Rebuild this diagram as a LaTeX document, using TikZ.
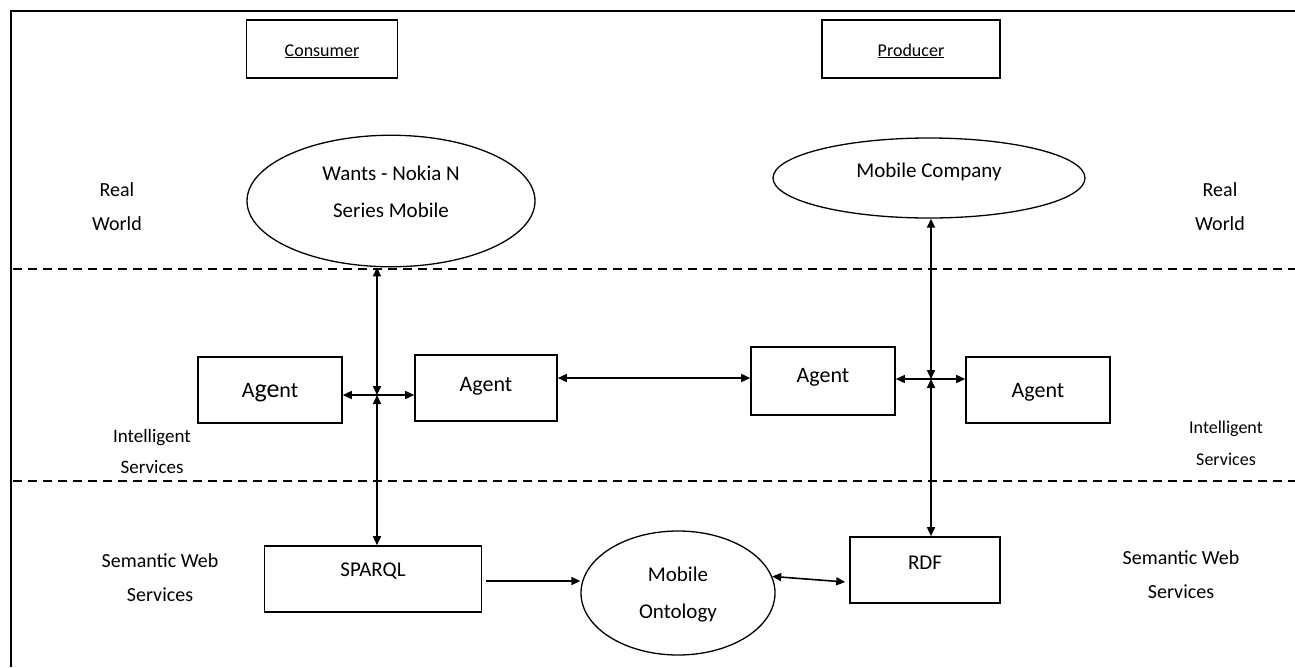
\documentclass[tikz,border=0pt]{standalone}
\usepackage{fontspec}
\setmainfont{Carlito}
\usetikzlibrary{shapes.geometric,arrows.meta}
\begin{document}
\begin{tikzpicture}[x=1pt,y=-1pt,
  box/.style={draw, line width=1.6pt, inner sep=0pt, text height=14pt, text depth=0pt, font=\fontsize{22}{26}\selectfont},
  txtup/.style={text height=14pt, text depth=#1},
  oval/.style={draw, ellipse, line width=1.3pt, inner sep=0pt, font=\fontsize{21}{37}\selectfont},
  lbl/.style={align=center, inner sep=0pt, font=\fontsize{20}{34}\selectfont},
  tip/.tip={Triangle[length=9pt,width=8pt]},
  conn/.style={line width=1.6pt, tip-tip},
  one/.style={line width=1.6pt, -tip},
  sep/.style={line width=1.4pt, dash pattern=on 9pt off 6pt}]
\useasboundingbox (0,0) rectangle (1295,667);
% frame
\draw[line width=1.8pt] (11,667) -- (11,11) -- (1295,11);
% separators
\draw[sep] (13,269) -- (1295,269);
\draw[sep] (13,481) -- (1295,481);
% header boxes
\node[box, minimum width=151pt, minimum height=58pt, font=\fontsize{18}{22}\selectfont, txtup=0pt] (cons) at (322,49) {\underline{Consumer}};
\node[box, minimum width=178pt, minimum height=58pt, font=\fontsize{18}{22}\selectfont, txtup=0pt] (prod) at (911,49) {\underline{Producer}};
% real world ovals
\node[oval, minimum width=288pt, minimum height=110pt] (wants) at (391,201)
  {\begin{tabular}{@{}c@{}}Wants - Nokia N\\Series Mobile\\[19pt]\end{tabular}};
\node[oval, minimum width=312pt, minimum height=80pt, text height=14pt, text depth=16pt] (comp) at (929,178) {Mobile Company};
% agents
\node[box, minimum width=144pt, minimum height=66pt] (a1) at (270,390) {A{\fontsize{26}{30}\selectfont ge}nt};
\node[box, minimum width=142pt, minimum height=66pt, txtup=8pt] (a2) at (486,388) {Agent};
\node[box, minimum width=144pt, minimum height=68pt, txtup=12pt] (a3) at (823,381) {Agent};
\node[box, minimum width=144pt, minimum height=66pt] (a4) at (1038,390) {Agent};
% semantic web
\node[box, minimum width=217pt, minimum height=66pt, font=\fontsize{21}{25}\selectfont, txtup=20pt] (sparql) at (373,579) {SPARQL};
\node[oval, minimum width=194pt, minimum height=124pt] (onto) at (678,593)
  {\begin{tabular}{@{}c@{}}Mobile\\Ontology\end{tabular}};
\node[box, minimum width=150pt, minimum height=66pt, font=\fontsize{21}{25}\selectfont, txtup=16pt] (rdf) at (925,570) {RDF};
% side labels
\node[lbl] (rwL) at (117,207) {Real\\World};
\node[lbl] (rwR) at (1220,207) {Real\\World};
\node[lbl, font=\fontsize{19}{31}\selectfont] (isL) at (152,451) {Intelligent\\Services};
\node[lbl, font=\fontsize{18}{32}\selectfont] (isR) at (1226,443) {Intelligent\\Services};
\node[lbl] (swL) at (160,578) {Semantic Web\\Services};
\node[lbl] (swR) at (1181,575) {Semantic Web\\Services};
% junctions
\coordinate (jL) at (377,395);
\coordinate (jR) at (931,379);
\coordinate (m23) at (650,378);
\coordinate (s2o) at (530,581);
% connectors
\draw[conn] (jL -| a1.east) -- (jL -| a2.west);
\draw[conn] (jL |- wants.south) -- (jL);
\draw[conn] (jL) -- (jL |- sparql.north);
\draw[conn] (m23 -| a2.east) -- (m23 -| a3.west);
\draw[conn] (jR -| a3.east) -- (jR -| a4.west);
\draw[conn] (jR |- comp.south) -- (jR);
\draw[conn] (jR) -- (jR |- rdf.north);
\draw[one] ([xshift=4pt]s2o -| sparql.east) -- (s2o -| onto.west);
\draw[conn] (onto.10) -- ([xshift=-4pt,yshift=-12pt]rdf.west);
\end{tikzpicture}
\end{document}
